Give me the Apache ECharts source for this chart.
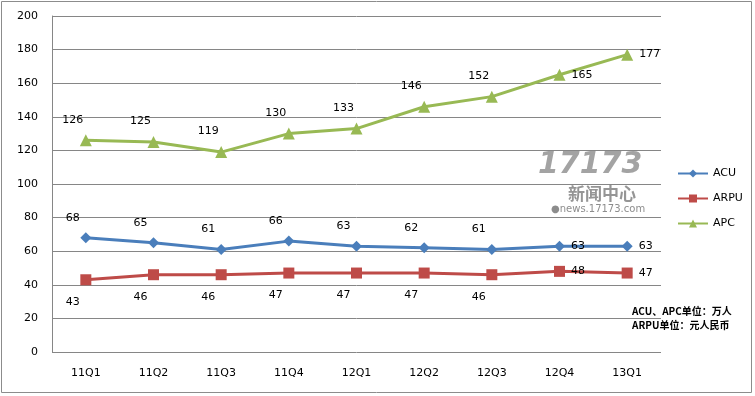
<!DOCTYPE html>
<html><head><meta charset="utf-8">
<script src="https://cdn.jsdelivr.net/npm/echarts@6/dist/echarts.min.js"></script>
<style>html,body{margin:0;padding:0;background:#fff}#c{width:755px;height:396px}</style>
</head><body><div id="c"></div>
<script>
const categories = ['11Q1','11Q2','11Q3','11Q4','12Q1','12Q2','12Q3','12Q4','13Q1'];
const acu = [68,65,61,66,63,62,61,63,63];
const arpu = [43,46,46,47,47,47,46,48,47];
const apc = [126,125,119,130,133,146,152,165,177];
const yTicks = [0,20,40,60,80,100,120,140,160,180,200];
const noteLines = ['ACU、APC单位：万人','ARPU单位：元人民币'];

const font = 'DejaVu Sans';
function mkData(vals, below){
  return vals.map((v,i)=>{
    const last = i >= vals.length-2;
    return {value:v, label:{position: last ? 'right' : (below?'bottom':'top'),
      offset: last ? [1,0] : [-13, below?6:-4]}};
  });
}
const chart = echarts.init(document.getElementById('c'));
chart.setOption({
  animation:false,
  textStyle:{fontFamily:font},
  grid:{left:52,right:94,top:16,bottom:44},
  legend:{orient:'vertical',left:672,top:163,itemGap:14,itemWidth:30,itemHeight:10,
    textStyle:{fontFamily:font,fontSize:11,color:'#000'},
    data:['ACU','ARPU','APC']},
  xAxis:{type:'category',data:categories,boundaryGap:true,
    axisLine:{show:false},axisTick:{show:false},
    axisLabel:{fontFamily:font,fontSize:11,color:'#000',margin:16}},
  yAxis:{type:'value',min:0,max:200,interval:20,
    axisLine:{show:true,lineStyle:{color:'#868686'}},axisTick:{show:false},
    axisLabel:{fontFamily:font,fontSize:11,color:'#000',margin:14,
      formatter:v=>yTicks.includes(v)?String(v):''},
    splitLine:{lineStyle:{color:'#868686',width:1}}},
  series:[
    {name:'ACU',type:'line',data:mkData(acu,false),symbol:'diamond',symbolSize:11,
      itemStyle:{color:'#4a7ebb'},lineStyle:{width:3,color:'#4a7ebb'},
      label:{show:true,fontFamily:font,fontSize:11,color:'#000'}},
    {name:'ARPU',type:'line',data:mkData(arpu,true),symbol:'rect',symbolSize:11,
      itemStyle:{color:'#be4b48'},lineStyle:{width:3,color:'#be4b48'},
      label:{show:true,fontFamily:font,fontSize:11,color:'#000'}},
    {name:'APC',type:'line',data:mkData(apc,false),symbol:'triangle',symbolSize:12,
      itemStyle:{color:'#98b954'},lineStyle:{width:3,color:'#98b954'},
      label:{show:true,fontFamily:font,fontSize:11,color:'#000'}}
  ],
  graphic:[
    {type:'rect',shape:{x:1.5,y:1.5,width:750,height:391},style:{fill:'none',stroke:'#8c8c8c',lineWidth:1},silent:true,z:-1},
    {type:'text',left:538,top:150,z:0,style:{text:'17173',font:'italic 900 30px "DejaVu Sans"',fill:'rgba(140,140,140,0.8)'}},
    {type:'text',left:568,top:185,z:0,style:{text:'新闻中心',font:'bold 17px "Noto Sans CJK SC"',fill:'rgba(130,130,130,0.85)'}},
    {type:'text',left:551,top:204,z:0,style:{text:'●news.17173.com',font:'10px "DejaVu Sans"',fill:'rgba(120,120,120,0.85)'}},
    {type:'text',left:632,top:304,style:{text:noteLines.join('\n'),font:'bold 10px "Noto Sans CJK SC"',lineHeight:14,fill:'#000'}}
  ]
});
</script></body></html>
